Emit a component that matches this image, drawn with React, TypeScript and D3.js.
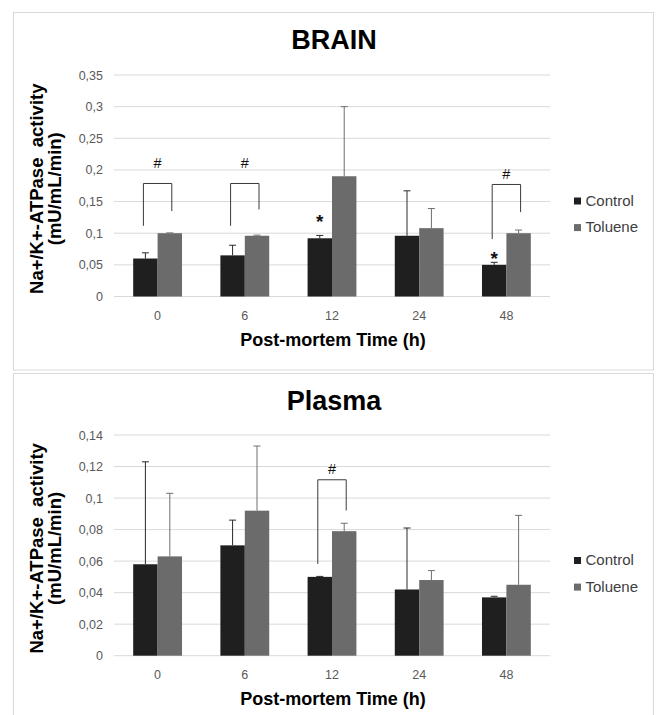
import * as d3 from "d3";
import React from "react";

// categories and values
const categories = ["0", "6", "12", "24", "48"];
const groups = ["Control", "Toluene"];

const brainControl = [0.06, 0.065, 0.092, 0.096, 0.05];
const brainControlErr = [0.009, 0.016, 0.0045, 0.071, 0.004];
const brainToluene = [0.1, 0.096, 0.19, 0.108, 0.1];
const brainTolueneErr = [0.0005, 0.001, 0.11, 0.031, 0.005];
const brainTicks = [0, 0.05, 0.1, 0.15, 0.2, 0.25, 0.3, 0.35];
const brainTickLabels = ["0", "0,05", "0,1", "0,15", "0,2", "0,25", "0,3", "0,35"];

const plasmaControl = [0.058, 0.07, 0.05, 0.042, 0.037];
const plasmaControlErr = [0.065, 0.016, 0.0003, 0.039, 0.0007];
const plasmaToluene = [0.063, 0.092, 0.079, 0.048, 0.045];
const plasmaTolueneErr = [0.04, 0.041, 0.005, 0.006, 0.044];
const plasmaTicks = [0, 0.02, 0.04, 0.06, 0.08, 0.1, 0.12, 0.14];
const plasmaTickLabels = ["0", "0,02", "0,04", "0,06", "0,08", "0,1", "0,12", "0,14"];

// significance marks: [category, leftBottom, rightBottom, top, symbolY]
const brainBrackets: [string, number, number, number, number][] = [
  ["0", 0.1117, 0.135, 0.1786, 0.211],
  ["6", 0.1117, 0.1375, 0.1786, 0.211],
  ["48", 0.0907, 0.1333, 0.177, 0.194],
];
const brainStars: [string, number][] = [
  ["12", 0.126],
  ["48", 0.067],
];
const plasmaBrackets: [string, number, number, number, number][] = [
  ["12", 0.0582, 0.0921, 0.1116, 0.1184],
];
const plasmaStars: [string, number][] = [];

const colours = ["#1f1f1f", "#6b6b6b"];
const errColours = ["#2b2b2b", "#6f6f6f"];

const W = 657;
const H = 715;
const plotLeft = 114;
const plotRight = 550;
const boldFont = "'Liberation Sans', Arial, sans-serif";
const tickFont = "'Liberation Sans Narrow', 'Liberation Sans', Arial, sans-serif";

interface PanelProps {
  title: string;
  titleY: number;
  y0: number;
  y1: number;
  max: number;
  ticks: number[];
  tickLabels: string[];
  control: number[];
  controlErr: number[];
  toluene: number[];
  tolueneErr: number[];
  brackets: [string, number, number, number, number][];
  stars: [string, number][];
  legendY: number;
}

function Panel(props: PanelProps) {
  const x = d3.scaleBand<string>().domain(categories).range([plotLeft, plotRight])
    .paddingInner(0.44).paddingOuter(0.22);
  const xs = d3.scaleBand<string>().domain(groups).range([0, x.bandwidth()]);
  const y = d3.scaleLinear().domain([0, props.max]).range([props.y0, props.y1]);
  const bw = xs.bandwidth();
  const series = [
    { vals: props.control, errs: props.controlErr },
    { vals: props.toluene, errs: props.tolueneErr },
  ];
  const plotMid = (props.y0 + props.y1) / 2;

  return (
    <g>
      <text x={334} y={props.titleY} textAnchor="middle" fontFamily={boldFont}
        fontWeight="bold" fontSize={27} fill="#000">{props.title}</text>

      {props.ticks.map((t, i) => (
        <g key={"t" + i}>
          <line x1={plotLeft} x2={plotRight} y1={y(t)} y2={y(t)} stroke="#d9d9d9" strokeWidth={1} />
          <text x={103} y={y(t) + 4.5} textAnchor="end" fontFamily={tickFont} fontSize={12.5}
            fill="#595959">{props.tickLabels[i]}</text>
        </g>
      ))}

      {series.map((s, si) => categories.map((c, ci) => {
        const bx = (x(c) as number) + (xs(groups[si]) as number);
        const cx = bx + bw / 2;
        const top = y(s.vals[ci]);
        const et = y(s.vals[ci] + s.errs[ci]);
        return (
          <g key={"b" + si + ci}>
            <rect x={bx} y={top} width={bw} height={props.y0 - top} fill={colours[si]} />
            <line x1={cx} x2={cx} y1={top} y2={et} stroke={errColours[si]} strokeWidth={1} />
            <line x1={cx - 3.5} x2={cx + 3.5} y1={et} y2={et} stroke={errColours[si]} strokeWidth={1} />
          </g>
        );
      }))}

      {props.brackets.map((b, i) => {
        const gx = x(b[0]) as number;
        const lx = gx + bw / 2 - 2;
        const rx = gx + bw * 1.5 + 2;
        return (
          <g key={"br" + i}>
            <path d={`M${lx},${y(b[1])}V${y(b[3])}H${rx}V${y(b[2])}`} fill="none"
              stroke="#3a3a3a" strokeWidth={1} />
            <text x={(lx + rx) / 2} y={y(b[4]) + 5} textAnchor="middle" fontFamily={tickFont}
              fontSize={14.5} fill="#111">#</text>
          </g>
        );
      })}

      {props.stars.map((s, i) => (
        <text key={"s" + i} x={(x(s[0]) as number) + bw / 2} y={y(s[1]) + 11} textAnchor="middle"
          fontFamily={boldFont} fontWeight="bold" fontSize={19} fill="#111">*</text>
      ))}

      {categories.map((c) => (
        <text key={"x" + c} x={(x(c) as number) + x.bandwidth() / 2} y={props.y0 + 23.5}
          textAnchor="middle" fontFamily={tickFont} fontSize={12.5} fill="#595959">{c}</text>
      ))}

      <text x={333} y={props.y0 + 49.5} textAnchor="middle" fontFamily={boldFont}
        fontWeight="bold" fontSize={18} fill="#000">Post-mortem Time (h)</text>

      <g transform={`translate(43,${plotMid + 3}) rotate(-90)`}>
        <text x={0} y={0} textAnchor="middle" fontFamily={boldFont} fontWeight="bold"
          fontSize={18.5} fill="#000">{"Na+/K+-ATPase\u00a0 activity"}</text>
        <text x={0} y={17.5} textAnchor="middle" fontFamily={boldFont} fontWeight="bold"
          fontSize={18.5} fill="#000">(mU/mL/min)</text>
      </g>

      {groups.map((g, i) => (
        <g key={"l" + g} transform={`translate(574,${props.legendY + i * 26.6})`}>
          <rect x={0} y={-8} width={7} height={7} fill={colours[i]} />
          <text x={11.5} y={0} fontFamily={boldFont} fontSize={15} fill="#404040">{g}</text>
        </g>
      ))}
    </g>
  );
}

export default function App() {
  return (
    <div style={{ position: "absolute", left: 0, top: 0 }}>
      <svg width={W} height={H} style={{ display: "block", background: "#fff" }}>
        <rect x={13.5} y={12.5} width={640} height={357.5} fill="#fff" stroke="#d9d9d9" />
        <rect x={13.5} y={373.5} width={640} height={360} fill="#fff" stroke="#d9d9d9" />
        <Panel title="BRAIN" titleY={49} y0={296.5} y1={75} max={0.35}
          ticks={brainTicks} tickLabels={brainTickLabels}
          control={brainControl} controlErr={brainControlErr}
          toluene={brainToluene} tolueneErr={brainTolueneErr}
          brackets={brainBrackets} stars={brainStars} legendY={205.5} />
        <Panel title="Plasma" titleY={410} y0={655.7} y1={435} max={0.14}
          ticks={plasmaTicks} tickLabels={plasmaTickLabels}
          control={plasmaControl} controlErr={plasmaControlErr}
          toluene={plasmaToluene} tolueneErr={plasmaTolueneErr}
          brackets={plasmaBrackets} stars={plasmaStars} legendY={565} />
      </svg>
    </div>
  );
}
